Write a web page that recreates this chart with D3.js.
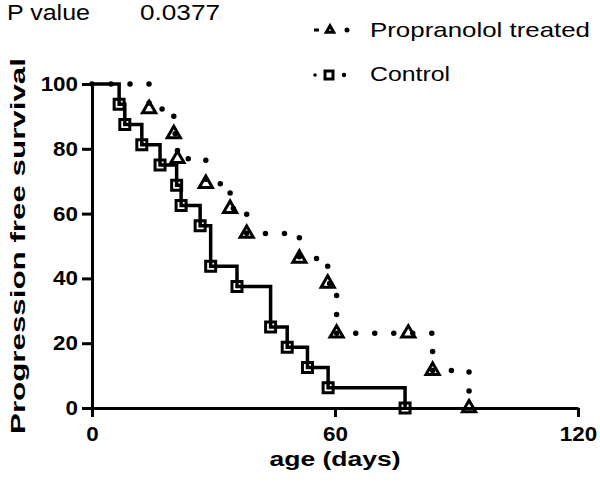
<!DOCTYPE html>
<html>
<head>
<meta charset="utf-8">
<script src="https://cdn.jsdelivr.net/npm/d3@7"></script>
<style>
  body { margin: 0; background: #fff; }
  svg { display: block; font-family: "Liberation Sans", Arial, sans-serif; }
  .axis path, .axis line { stroke: #000; stroke-width: 3; }
  .axis text { font-size: 20px; font-weight: bold; fill: #000; }
</style>
</head>
<body>
<div id="chart"></div>
<script>
// days to progression (1 = censored)
let treatedDays = [14.1, 20.2, 21.1, 28.1, 34.1, 38.2, 51.2, 58.2, 60.4, 60.4, 78.1, 84.1, 93.1];
let treatedCensored = [0, 0, 0, 0, 0, 0, 0, 0, 0, 0, 1, 0, 0];
let controlDays = [6.7, 8.1, 12.3, 16.8, 20.9, 22, 26.7, 29.3, 29.3, 35.8, 44.1, 44.1, 48.2, 53.2, 58.3, 77.3];
let controlCensored = controlDays.map(() => 0);

let xTicks = [0, 60, 120];
let yTicks = [0, 20, 40, 60, 80, 100];
let pValue = "0.0377";

let width = 600,
    height = 492;

let x = d3.scaleLinear().domain([0, 120]).range([92, 578]);
let y = d3.scaleLinear().domain([0, 100]).range([408, 84]);

// Kaplan-Meier estimate -> list of {t, s, censored}
function kaplanMeier(days, censored) {
  let rows = days.map((t, i) => ({t: t, c: censored[i]})).sort((a, b) => a.t - b.t);
  let atRisk = rows.length, s = 100, pts = [{t: 0, s: 100, c: 0, start: true}];
  let times = Array.from(new Set(rows.map(r => r.t)));
  times.forEach(t => {
    let here = rows.filter(r => r.t == t);
    let d = here.filter(r => !r.c).length;
    if (d > 0) s = s * (1 - d / atRisk);
    pts.push({t: t, s: s, c: d == 0 ? 1 : 0});
    atRisk -= here.length;
  });
  return pts;
}

let treated = kaplanMeier(treatedDays, treatedCensored);
let control = kaplanMeier(controlDays, controlCensored);

let svg = d3.select("#chart").append("svg")
    .attr("width", width)
    .attr("height", height);

// axes
let xAxis = svg.append("g")
    .attr("class", "axis")
    .attr("transform", "translate(0," + y(0) + ")")
    .call(d3.axisBottom(x).tickValues(xTicks).tickSize(9).tickPadding(10).tickSizeOuter(0));
xAxis.selectAll("text").attr("transform", "scale(1.12,1)");

let yAxis = svg.append("g")
    .attr("class", "axis")
    .attr("transform", "translate(" + x(0) + ",0)")
    .call(d3.axisLeft(y).tickValues(yTicks).tickSize(10).tickSizeOuter(0));
yAxis.selectAll("text").attr("x", -12.5).attr("transform", "scale(1.12,1)");

let line = d3.line()
    .x(d => x(d.t))
    .y(d => y(d.s))
    .curve(d3.curveStepAfter);

svg.append("path")
    .datum(control)
    .attr("d", line)
    .attr("fill", "none")
    .attr("stroke", "#000")
    .attr("stroke-width", 3.5);

svg.append("path")
    .datum(treated)
    .attr("d", line)
    .attr("fill", "none")
    .attr("stroke", "#000")
    .attr("stroke-width", 5.5)
    .attr("stroke-linecap", "round")
    .attr("stroke-dasharray", "0,19");

svg.append("g").selectAll("path")
    .data(control.filter(d => !d.start))
  .enter().append("path")
    .attr("transform", d => "translate(" + x(d.t) + "," + y(d.s) + ")")
    .attr("d", d3.symbol(d3.symbolSquare, 100))
    .attr("fill", "none")
    .attr("stroke", "#000")
    .attr("stroke-width", 3);

svg.append("g").selectAll("path")
    .data(treated.filter(d => !d.start))
  .enter().append("path")
    .attr("transform", d => "translate(" + x(d.t) + "," + y(d.s) + ")")
    .attr("d", d3.symbol(d3.symbolTriangle, 75))
    .attr("fill", "none")
    .attr("stroke", "#000")
    .attr("stroke-width", 3);

// titles
svg.append("text")
    .attr("x", 335 - 65.5)
    .attr("y", 466)
    .attr("font-size", 20)
    .attr("font-weight", "bold")
    .attr("textLength", 131)
    .attr("lengthAdjust", "spacingAndGlyphs")
    .text("age (days)");

svg.append("text")
    .attr("transform", "translate(25," + ((y(0) + y(100)) / 2) + ") rotate(-90)")
    .attr("x", -188)
    .attr("font-size", 21)
    .attr("font-weight", "bold")
    .attr("textLength", 376)
    .attr("lengthAdjust", "spacingAndGlyphs")
    .text("Progression free survival");

svg.append("text")
    .attr("x", 7).attr("y", 20)
    .attr("font-size", 22)
    .attr("textLength", 83)
    .attr("lengthAdjust", "spacingAndGlyphs")
    .text("P value");

svg.append("text")
    .attr("x", 140).attr("y", 20)
    .attr("font-size", 22)
    .attr("textLength", 80)
    .attr("lengthAdjust", "spacingAndGlyphs")
    .text(pValue);

// legend
let legend = svg.append("g");

legend.append("line")
    .attr("x1", 314).attr("x2", 319).attr("y1", 30).attr("y2", 30)
    .attr("stroke", "#000").attr("stroke-width", 3);
legend.append("path")
    .attr("transform", "translate(330,30)")
    .attr("d", d3.symbol(d3.symbolTriangle, 24))
    .attr("fill", "none").attr("stroke", "#000").attr("stroke-width", 3);
legend.append("circle")
    .attr("cx", 347).attr("cy", 30).attr("r", 2.5);
legend.append("text")
    .attr("x", 370).attr("y", 37)
    .attr("font-size", 21)
    .attr("textLength", 220)
    .attr("lengthAdjust", "spacingAndGlyphs")
    .text("Propranolol treated");

legend.append("circle")
    .attr("cx", 315).attr("cy", 75).attr("r", 1.8);
legend.append("path")
    .attr("transform", "translate(329,75)")
    .attr("d", d3.symbol(d3.symbolSquare, 64))
    .attr("fill", "none").attr("stroke", "#000").attr("stroke-width", 3);
legend.append("circle")
    .attr("cx", 344).attr("cy", 75).attr("r", 2.2);
legend.append("text")
    .attr("x", 370).attr("y", 81)
    .attr("font-size", 21)
    .attr("textLength", 80)
    .attr("lengthAdjust", "spacingAndGlyphs")
    .text("Control");
</script>
</body>
</html>
